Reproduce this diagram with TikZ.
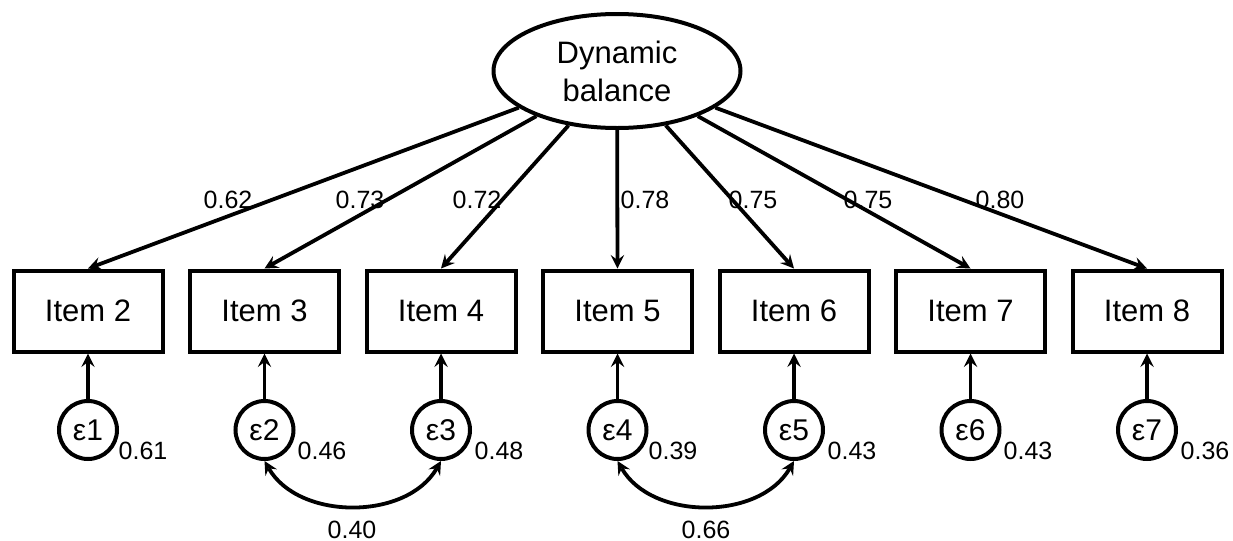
\documentclass[tikz,border=0pt]{standalone}
\usepackage{fontspec}
\setmainfont{Liberation Sans}
\usetikzlibrary{shapes,arrows,positioning}
\tikzstyle{latent} = [ellipse, draw, line width=2pt, minimum width=123.5pt, minimum height=57pt, inner sep=0pt, align=center, font=\fontsize{15.5}{19}\selectfont]
\tikzstyle{item} = [rectangle, draw, line width=2pt, minimum width=74.5pt, minimum height=40.5pt, font=\fontsize{15.5}{18}\selectfont]
\tikzstyle{resid} = [circle, draw, line width=2pt, minimum size=29pt, inner sep=0pt, font=\fontsize{15}{18}\selectfont]
\tikzstyle{coef} = [inner sep=0pt, font=\fontsize{12.5}{14}\selectfont]

\begin{document}
\begin{tikzpicture}[x=0.5pt, y=-0.5pt, node distance=88.25pt, >=stealth, line width=1.9pt]
   \useasboundingbox (0,0) rectangle (1233,541);
   % nodes
   \node[latent] (db) at (617,71)                     {Dynamic\\balance};
   \node[item] (i2) at (88,311)                       {Item 2};
   \node[item] (i3) [right of=i2]                     {Item 3};
   \node[item] (i4) [right of=i3]                     {Item 4};
   \node[item] (i5) [right of=i4]                     {Item 5};
   \node[item] (i6) [right of=i5]                     {Item 6};
   \node[item] (i7) [right of=i6]                     {Item 7};
   \node[item] (i8) [right of=i7]                     {Item 8};
   \node[resid] (e1) [below of=i2, node distance=59.5pt] {ε1};
   \node[resid] (e2) [below of=i3, node distance=59.5pt] {ε2};
   \node[resid] (e3) [below of=i4, node distance=59.5pt] {ε3};
   \node[resid] (e4) [below of=i5, node distance=59.5pt] {ε4};
   \node[resid] (e5) [below of=i6, node distance=59.5pt] {ε5};
   \node[resid] (e6) [below of=i7, node distance=59.5pt] {ε6};
   \node[resid] (e7) [below of=i8, node distance=59.5pt] {ε7};

   % edges
	\draw[->] (db) -- (i2.north);
	\draw[->] (db) -- (i3.north);
	\draw[->] (db) -- (i4.north);
	\draw[->] (db) -- (i5.north);
	\draw[->] (db) -- (i6.north);
	\draw[->] (db) -- (i7.north);
	\draw[->] (db) -- (i8.north);
	\draw[->] (e1.north) -- (i2.south);
	\draw[->] (e2.north) -- (i3.south);
	\draw[->] (e3.north) -- (i4.south);
	\draw[->] (e4.north) -- (i5.south);
	\draw[->] (e5.north) -- (i6.south);
	\draw[->] (e6.north) -- (i7.south);
	\draw[->] (e7.north) -- (i8.south);
	\draw[<->] (e2.south) to [out=-60, in=-120] (e3.south);
	\draw[<->] (e4.south) to [out=-60, in=-120] (e5.south);

   % coefficients
   \node[coef] (l2) at (228,200)  {0.62};
   \node[coef] (l3) at (360,200)  {0.73};
   \node[coef] (l4) at (477,200)  {0.72};
   \node[coef] (l5) at (645,200)  {0.78};
   \node[coef] (l6) at (753,200)  {0.75};
   \node[coef] (l7) at (868,200)  {0.75};
   \node[coef] (l8) at (1000,200) {0.80};
   \node[coef] (v1) at (143,451)  {0.61};
   \node[coef] (v2) at (322,451)  {0.46};
   \node[coef] (v3) at (499,451)  {0.48};
   \node[coef] (v4) at (673,451)  {0.39};
   \node[coef] (v5) at (852,451)  {0.43};
   \node[coef] (v6) at (1028,451) {0.43};
   \node[coef] (v7) at (1205,451) {0.36};
   \node[coef] (c23) at (352,530) {0.40};
   \node[coef] (c45) at (706,530) {0.66};
\end{tikzpicture}
\end{document}
